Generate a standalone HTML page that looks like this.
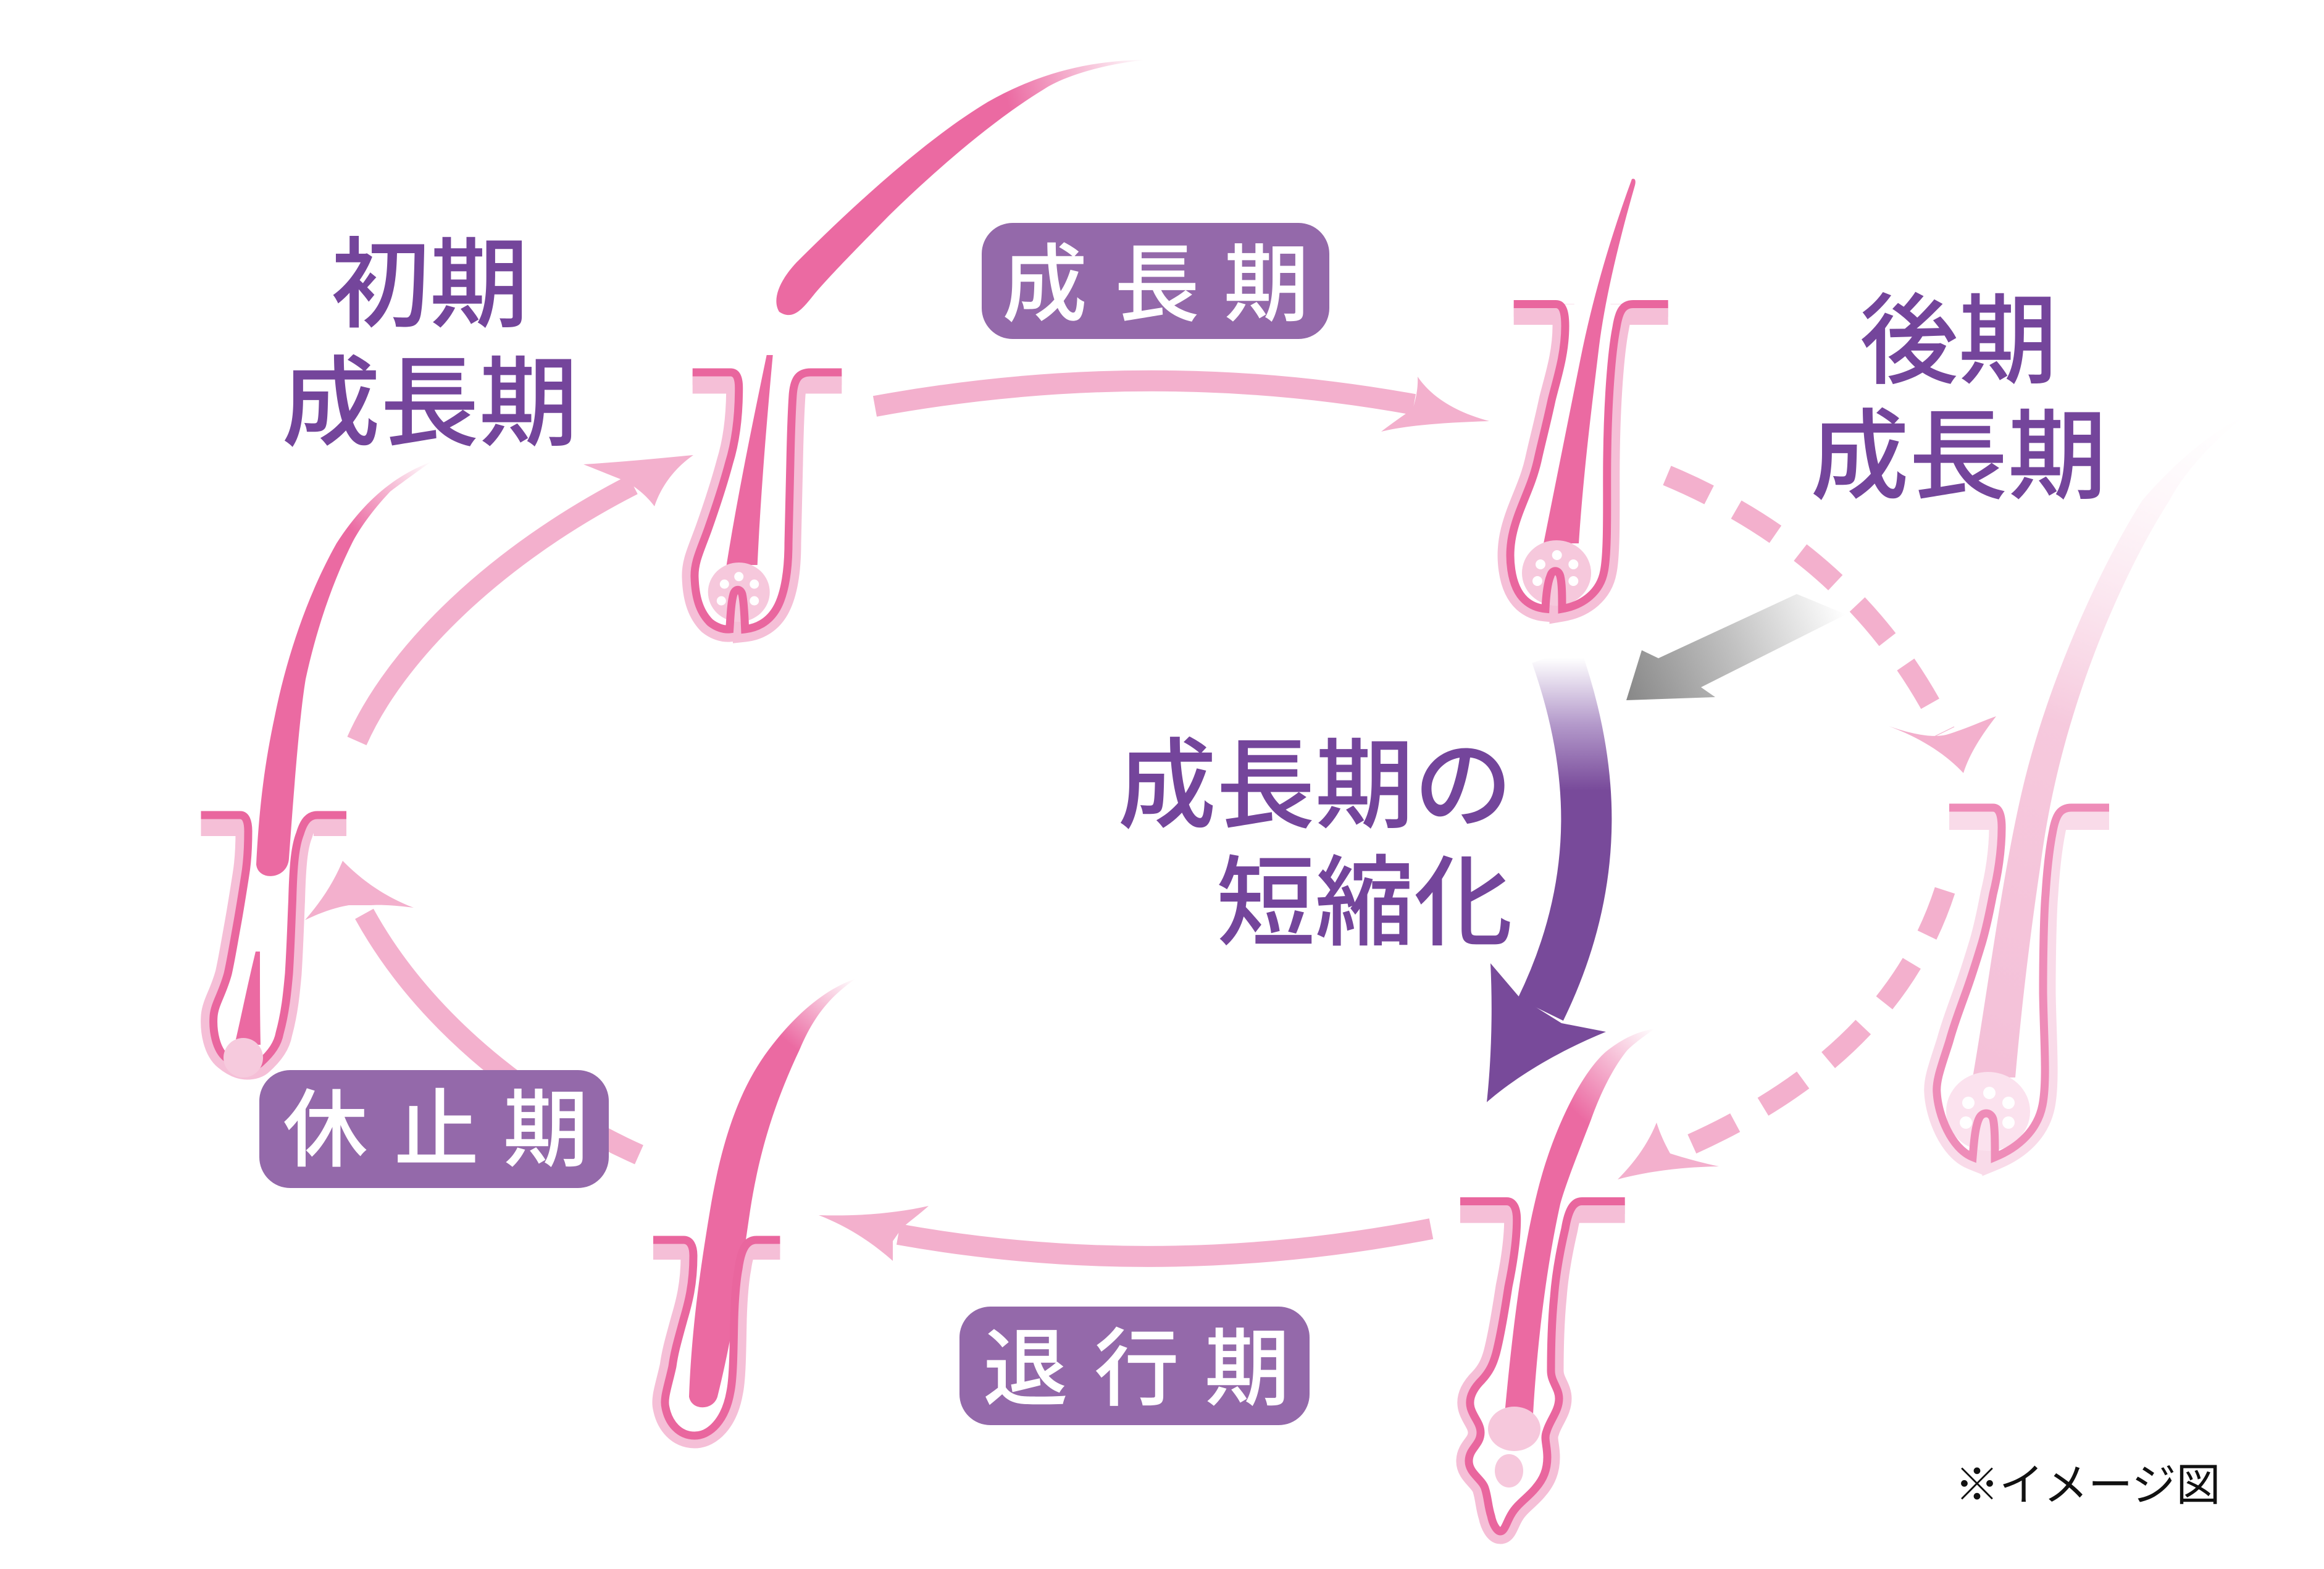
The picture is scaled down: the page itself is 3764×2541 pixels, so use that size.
<!DOCTYPE html>
<html><head><meta charset="utf-8">
<style>html,body{margin:0;padding:0;background:#fff;}svg{display:block}</style>
</head><body>
<svg width="3764" height="2541" viewBox="0 0 3764 2541" xmlns="http://www.w3.org/2000/svg">
<defs>
<linearGradient id="gFloat" gradientUnits="userSpaceOnUse" x1="1630" y1="160" x2="1855" y2="97"><stop offset="0" stop-color="#eb6aa2"/><stop offset="1" stop-color="#eb6aa2" stop-opacity="0"/></linearGradient>
<linearGradient id="gC" gradientUnits="userSpaceOnUse" x1="3230" y1="1745" x2="3640" y2="672"><stop offset="0" stop-color="#f4c0d8"/><stop offset="0.5" stop-color="#f6c9dd"/><stop offset="1" stop-color="#fdf0f6" stop-opacity="0"/></linearGradient>
<linearGradient id="gD" gradientUnits="userSpaceOnUse" x1="2550" y1="1800" x2="2680" y2="1666"><stop offset="0" stop-color="#eb6aa2"/><stop offset="1" stop-color="#eb6aa2" stop-opacity="0"/></linearGradient>
<linearGradient id="gE" gradientUnits="userSpaceOnUse" x1="1290" y1="1700" x2="1386" y2="1585"><stop offset="0" stop-color="#eb6aa2"/><stop offset="1" stop-color="#eb6aa2" stop-opacity="0"/></linearGradient>
<linearGradient id="gF" gradientUnits="userSpaceOnUse" x1="575" y1="865" x2="700" y2="748"><stop offset="0" stop-color="#eb6aa2"/><stop offset="1" stop-color="#eb6aa2" stop-opacity="0"/></linearGradient>
<linearGradient id="gGray" gradientUnits="userSpaceOnUse" x1="2640" y1="1125" x2="2985" y2="985"><stop offset="0" stop-color="#8a8a8a"/><stop offset="0.5" stop-color="#c2c2c2"/><stop offset="1" stop-color="#ffffff"/></linearGradient>
<linearGradient id="gPur" gradientUnits="userSpaceOnUse" x1="2500" y1="1065" x2="2500" y2="1280"><stop offset="0" stop-color="#ffffff"/><stop offset="0.5" stop-color="#b49acb"/><stop offset="1" stop-color="#784a9a"/></linearGradient>

<path id="pA" d="M 1121.7,603 L 1183,603 C 1193,603 1196.7,612 1196.7,628 C 1196.7,680 1190,720 1180.7,750 C 1170,790 1158,825 1146.7,857 C 1135,890 1124,910 1125,935 C 1126,965 1132,990 1150,1008 C 1160,1016 1172,1020 1181.7,1019 C 1183,1000 1184,975 1188,962 C 1191,953 1199,953 1202,962 C 1205,975 1206,1000 1206.7,1019 C 1225,1017 1245,1008 1258,985 C 1272,960 1277,920 1277,880 C 1278,830 1279,780 1280,750 C 1281,700 1282,670 1284,640 C 1286,612 1295,603 1313,603 L 1363.3,603"/>
<path id="pB" d="M 2451.7,492.5 L 2520,492.5 C 2531,492.5 2535,505 2535,528 C 2535,575 2521,615 2513,648 C 2504,690 2497,715 2490,747 C 2480,790 2461,820 2451,860 C 2441,900 2446,950 2470,972 C 2480,981 2492,985 2503,986 C 2504,965 2506,945 2511,933 C 2514,922 2524,922 2527,933 C 2530,945 2530,965 2530,986 C 2565,980 2592,958 2598,925 C 2605,890 2602,800 2603,740 C 2604,650 2610,570 2618,530 C 2622,505 2628,492.5 2645,492.5 L 2701.7,492.5"/>
<path id="pC" d="M 3157,1308 L 3228,1308 C 3238,1308 3242,1320 3242,1340 C 3242,1380 3235,1420 3228,1448 C 3220,1490 3215,1510 3210,1527 C 3200,1560 3192,1585 3184,1607 C 3172,1640 3163,1665 3157,1687 C 3145,1725 3135,1750 3137,1770 C 3139,1805 3160,1860 3195,1874 C 3197,1850 3199,1825 3205,1812 C 3210,1800 3224,1800 3228,1812 C 3231,1825 3231,1850 3231,1874 C 3270,1858 3300,1830 3308,1790 C 3316,1750 3310,1680 3309,1607 C 3309,1530 3311,1470 3313,1448 C 3316,1400 3320,1370 3325,1345 C 3330,1318 3338,1308 3355,1308 L 3416,1308"/>
<path id="pD" d="M 2365,1945.5 L 2440,1945.5 C 2452,1945.5 2456.7,1958 2456.7,1975 C 2456.7,2010 2450,2050 2443,2084 C 2436,2130 2430,2165 2423,2192 C 2418,2210 2412,2222 2400,2235 C 2385,2250 2378,2265 2382,2280 C 2386,2295 2398,2305 2398,2320 C 2398,2340 2380,2345 2379,2365 C 2378,2385 2400,2395 2405,2410 C 2410,2425 2410,2440 2415,2455 C 2418,2470 2425,2480 2430,2480 C 2437,2480 2440,2465 2448,2452 C 2458,2435 2475,2425 2487,2410 C 2500,2395 2506,2380 2506,2360 C 2506,2340 2500,2330 2505,2318 C 2510,2300 2525,2285 2525,2265 C 2525,2248 2512,2238 2512,2220 C 2512,2170 2514,2130 2517,2100 C 2520,2060 2528,2020 2535,1990 C 2540,1960 2548,1945.5 2562,1945.5 L 2631.7,1945.5"/>
<path id="pE" d="M 1058,2008 L 1107,2008 C 1118,2008 1123,2018 1123,2034 C 1123,2080 1115,2110 1107,2137 C 1098,2170 1092,2190 1089,2213 C 1082,2245 1074,2265 1078,2280 C 1083,2305 1100,2325 1125,2325 C 1150,2325 1175,2300 1183,2254 C 1188,2230 1188,2180 1189,2137 C 1190,2100 1193,2070 1196,2055 C 1200,2025 1208,2008 1225,2008 L 1263.4,2008"/>
<path id="pF" d="M 325.5,1320 L 389,1320 C 398,1320 402,1330 402,1346 C 402,1380 400,1400 397,1418 C 392,1450 388,1475 384,1497 C 378,1530 374,1555 369,1577 C 360,1610 348,1625 346,1645 C 344,1670 350,1700 366,1713 C 378,1723 390,1728 400,1728 C 410,1728 418,1725 422,1721 C 440,1705 450,1690 453,1673 C 462,1640 465,1610 468,1577 C 471,1530 472,1490 473.5,1458 C 475,1400 478,1370 486,1350 C 492,1330 500,1320 514,1320 L 561,1320"/>
</defs>

<!-- ===== Follicle A ===== -->
<g>
<use href="#pA" fill="none" stroke="#f5bfd7" stroke-width="41"/>
<use href="#pA" fill="#fff"/>
<rect x="1110" y="578" width="265" height="25" fill="#fff"/>
<rect x="1121.7" y="609" width="64" height="28.5" fill="#f5bfd7"/>
<rect x="1298" y="609" width="65.3" height="28.5" fill="#f5bfd7"/>
<path d="M 1241.7,575 L 1251.7,575 C 1242,680 1232,800 1226.7,915 L 1176.7,915 C 1195,800 1220,680 1241.7,575 Z" fill="#eb6aa2"/>
<ellipse cx="1196.7" cy="959" rx="50" ry="48" fill="#f6c8dc"/>
<g fill="#fff"><circle cx="1173.3" cy="946" r="7.5"/><circle cx="1196.7" cy="933.8" r="7.5"/><circle cx="1221.7" cy="946" r="7.5"/><circle cx="1168.3" cy="973" r="7.5"/><circle cx="1221.7" cy="973" r="7.5"/></g>
<use href="#pA" fill="none" stroke="#e9669e" stroke-width="13"/>
</g>

<!-- floating hair above A -->
<path d="M 1262,505 C 1250,485 1262,455 1290,425 C 1390,325 1505,222 1600,165 C 1680,120 1760,98 1855,97 C 1780,105 1720,125 1690,145 C 1600,200 1500,290 1439,350 C 1400,390 1350,440 1320,475 C 1300,500 1285,520 1262,505 Z" fill="url(#gFloat)"/>

<!-- ===== Follicle B ===== -->
<g>
<use href="#pB" fill="none" stroke="#f5bfd7" stroke-width="41"/>
<use href="#pB" fill="#fff"/>
<rect x="2440" y="465" width="275" height="27" fill="#fff"/>
<rect x="2451.7" y="498.7" width="70" height="27.3" fill="#f5bfd7"/>
<rect x="2632" y="498.7" width="69.7" height="27.3" fill="#f5bfd7"/>
<path d="M 2500,880 C 2520,780 2540,680 2560,580 C 2580,480 2610,380 2643,290 C 2648,288 2650,292 2648,300 C 2625,380 2600,480 2590,560 C 2578,660 2565,760 2557,880 Z" fill="#eb6aa2"/>
<ellipse cx="2521" cy="928" rx="56" ry="53" fill="#f6c8dc"/>
<g fill="#fff"><circle cx="2495" cy="914" r="8"/><circle cx="2521.7" cy="899" r="8"/><circle cx="2548.3" cy="914" r="8"/><circle cx="2490" cy="941" r="8"/><circle cx="2548.3" cy="941" r="8"/></g>
<use href="#pB" fill="none" stroke="#e9669e" stroke-width="13"/>
</g>

<!-- ===== Follicle C (faded) ===== -->
<g>
<use href="#pC" fill="none" stroke="#f9dbe9" stroke-width="41"/>
<use href="#pC" fill="#fff"/>
<rect x="3145" y="1280" width="285" height="28" fill="#fff"/>
<rect x="3157" y="1315" width="73" height="29" fill="#f9dbe9"/>
<rect x="3342" y="1315" width="74" height="29" fill="#f9dbe9"/>
<path d="M 3195,1745 C 3220,1600 3245,1400 3280,1260 C 3320,1100 3400,920 3470,810 C 3530,740 3590,695 3638,672 C 3590,710 3540,760 3514,810 C 3450,910 3400,1030 3370,1120 C 3340,1210 3318,1300 3305,1400 C 3290,1500 3275,1620 3264,1745 Z" fill="url(#gC)"/>
<ellipse cx="3220" cy="1800" rx="68" ry="64" fill="#fbe2ee"/>
<g fill="#fff"><circle cx="3188" cy="1786" r="10"/><circle cx="3222" cy="1770" r="10"/><circle cx="3253" cy="1786" r="10"/><circle cx="3184" cy="1818" r="10"/><circle cx="3253" cy="1818" r="10"/></g>
<use href="#pC" fill="none" stroke="#ee8cb8" stroke-width="13"/>
</g>

<!-- ===== Follicle D (catagen) ===== -->
<g>
<use href="#pD" fill="none" stroke="#f5bfd7" stroke-width="41"/>
<use href="#pD" fill="#fff"/>
<rect x="2355" y="1918" width="290" height="27.5" fill="#fff"/>
<rect x="2365" y="1951" width="80" height="29.6" fill="#f5bfd7"/>
<rect x="2555" y="1951" width="76.7" height="29.6" fill="#f5bfd7"/>
<path d="M 2437,2290 C 2450,2150 2465,2030 2490,1930 C 2515,1830 2560,1740 2600,1704 C 2630,1680 2655,1670 2680,1666 C 2660,1680 2640,1695 2633,1704 C 2605,1740 2585,1790 2577,1813 C 2555,1870 2535,1920 2527,1950 C 2505,2050 2490,2170 2483,2290 Z" fill="url(#gD)"/>
<ellipse cx="2452.5" cy="2314" rx="42.5" ry="36" fill="#f6c8dc"/>
<ellipse cx="2444" cy="2382" rx="23" ry="27" fill="#f6c8dc"/>
<use href="#pD" fill="none" stroke="#e9669e" stroke-width="13"/>
</g>

<!-- ===== Follicle E ===== -->
<g>
<use href="#pE" fill="none" stroke="#f5bfd7" stroke-width="41"/>
<use href="#pE" fill="#fff"/>
<rect x="1048" y="1982" width="228" height="26" fill="#fff"/>
<rect x="1058" y="2014" width="52" height="26" fill="#f5bfd7"/>
<rect x="1218" y="2014" width="45.4" height="26" fill="#f5bfd7"/>
<path d="M 1116,2262 C 1120,2150 1135,2050 1150,1960 C 1170,1840 1200,1760 1245,1700 C 1290,1640 1340,1600 1386,1585 C 1350,1610 1320,1640 1295,1700 C 1262,1770 1232,1850 1215,1960 C 1200,2060 1190,2150 1162,2262 C 1155,2285 1120,2285 1116,2262 Z" fill="url(#gE)"/>
<use href="#pE" fill="none" stroke="#e9669e" stroke-width="13"/>
</g>

<!-- ===== Follicle F (telogen) ===== -->
<g>
<use href="#pF" fill="none" stroke="#f5bfd7" stroke-width="41"/>
<use href="#pF" fill="#fff"/>
<rect x="315" y="1294" width="258" height="26" fill="#fff"/>
<rect x="325.5" y="1326" width="66" height="28" fill="#f5bfd7"/>
<rect x="508" y="1326" width="53" height="28" fill="#f5bfd7"/>
<path d="M 414,1541 L 421,1541 C 421,1600 421,1650 422,1692 L 380,1692 C 392,1640 402,1590 414,1541 Z" fill="#eb6aa2"/>
<path d="M 415,1400 C 420,1300 430,1230 445,1160 C 465,1060 500,960 545,880 C 590,810 640,770 698,748 C 660,775 640,790 632,796 C 600,830 580,860 570,880 C 535,950 510,1030 495,1100 C 485,1160 476,1280 468,1390 C 466,1425 418,1428 415,1400 Z" fill="url(#gF)"/>
<use href="#pF" fill="none" stroke="#e9669e" stroke-width="13"/>
<circle cx="394" cy="1713" r="32" fill="#f6cadd"/>
</g>

<!-- ===== Arrows ===== -->
<g fill="#f3b0cd">
<!-- top arrow A -> B -->
<path d="M 1417,658 Q 1860,577 2290,655" fill="none" stroke="#f3b0cd" stroke-width="34"/>
<path d="M 2296,610 C 2320,645 2360,668 2412,682 C 2350,684 2280,688 2237,699 C 2255,685 2270,675 2288,662 C 2294,645 2297,625 2296,610 Z"/>
<!-- left upper F -> A -->
<path d="M 578,1200 C 640,1060 800,900 1025,785" fill="none" stroke="#f3b0cd" stroke-width="34"/>
<path d="M 945,752 C 1010,748 1070,742 1123,737 C 1090,760 1070,790 1060,820 C 1045,800 1030,790 1015,780 C 990,770 965,760 945,752 Z"/>
<!-- left lower rest -> F -->
<path d="M 1035,1870 C 900,1810 700,1680 590,1480" fill="none" stroke="#f3b0cd" stroke-width="34"/>
<path d="M 555,1394 C 590,1430 630,1455 670,1470 C 640,1466 615,1465 601,1466 L 565,1466 C 540,1470 515,1480 494,1490 C 520,1460 540,1430 555,1394 Z"/>
<!-- bottom D -> E -->
<path d="M 2318,1990 Q 1880,2075 1455,1999" fill="none" stroke="#f3b0cd" stroke-width="34"/>
<path d="M 1326,1968 C 1390,1970 1450,1965 1504,1953 C 1485,1970 1470,1980 1460,1990 L 1446,2010 C 1446,2020 1446,2030 1446,2042 C 1410,2010 1370,1985 1326,1968 Z"/>
<!-- dashed B -> C -->
<path d="M 2700,770 Q 3010,900 3150,1185" fill="none" stroke="#f3b0cd" stroke-width="34" stroke-dasharray="75 50"/>
<path d="M 3059,1176 C 3100,1190 3130,1195 3152,1190 C 3185,1180 3210,1168 3233,1160 C 3210,1190 3190,1220 3180,1252 C 3150,1220 3110,1195 3059,1176 Z"/>
<!-- dashed C -> D -->
<path d="M 3150,1442 Q 3060,1720 2705,1868" fill="none" stroke="#f3b0cd" stroke-width="34" stroke-dasharray="78 52"/>
<path d="M 2683,1818 C 2690,1840 2698,1855 2705,1868 C 2730,1876 2760,1884 2784,1889 C 2720,1890 2665,1898 2620,1910 C 2650,1880 2670,1850 2683,1818 Z"/>
</g>

<!-- gray arrow -->
<path d="M 2910,962 L 2990,995 L 2755,1113 L 2778,1129 L 2634,1134 L 2659,1053 L 2686,1066 Z" fill="url(#gGray)"/>

<!-- purple arrow -->
<path d="M 2520,1060 C 2580,1230 2600,1420 2495,1635" fill="none" stroke="url(#gPur)" stroke-width="82"/>
<path d="M 2414,1560 L 2460,1614 L 2529,1657 L 2601,1671 C 2530,1700 2460,1740 2408,1785 C 2415,1720 2418,1640 2414,1560 Z" fill="#784a9a"/>

<!-- ===== Label boxes ===== -->
<g font-family="'Liberation Sans','Noto Sans CJK JP',sans-serif" font-size="138" fill="#fff" text-anchor="middle" font-weight="500">
<rect x="1590" y="361" width="563" height="188" rx="50" ry="50" fill="#9469aa"/>
<text x="1692" y="509">成</text><text x="1874" y="509">長</text><text x="2051" y="509">期</text>
<rect x="420" y="1733" width="566" height="191" rx="50" ry="50" fill="#9469aa"/>
<text x="527" y="1878">休</text><text x="707" y="1878">止</text><text x="884" y="1878">期</text>
<rect x="1554" y="2116" width="567" height="192" rx="50" ry="50" fill="#9469aa"/>
<text x="1661" y="2265">退</text><text x="1841" y="2265">行</text><text x="2020" y="2265">期</text>
</g>

<!-- ===== Purple headings ===== -->
<g font-family="'Liberation Sans','Noto Sans CJK JP',sans-serif" font-size="160" fill="#74459b" font-weight="500">
<text x="696" y="517" text-anchor="middle">初期</text>
<text x="696" y="709" text-anchor="middle">成長期</text>
<text x="3172" y="608" text-anchor="middle">後期</text>
<text x="3172" y="795" text-anchor="middle">成長期</text>
<text x="2450" y="1328" text-anchor="end">成長期の</text>
<text x="2450" y="1518" text-anchor="end">短縮化</text>
</g>

<text x="3166" y="2430" font-family="'Liberation Sans','Noto Sans CJK JP',sans-serif" font-size="72" fill="#111">※イメージ図</text>
</svg>
</body></html>
